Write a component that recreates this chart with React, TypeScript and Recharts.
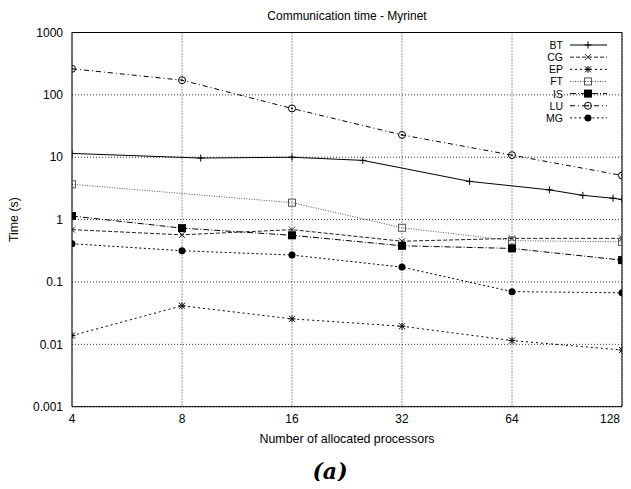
import React from 'react';
import {
  LineChart, Line, XAxis, YAxis, CartesianGrid, Legend, Label,
} from 'recharts';

// ---------- data ----------
const procTicks = [4, 8, 16, 32, 64, 128];
const timeTicks = [0.001, 0.01, 0.1, 1, 10, 100, 1000];
const minorTimeTicks = [
  0.002, 0.003, 0.004, 0.005, 0.006, 0.007, 0.008, 0.009,
  0.02, 0.03, 0.04, 0.05, 0.06, 0.07, 0.08, 0.09,
  0.2, 0.3, 0.4, 0.5, 0.6, 0.7, 0.8, 0.9,
  2, 3, 4, 5, 6, 7, 8, 9,
  20, 30, 40, 50, 60, 70, 80, 90,
  200, 300, 400, 500, 600, 700, 800, 900,
];

const btProcs = [4, 9, 16, 25, 49, 81, 100, 121, 128];
const btTime = [11.5, 9.7, 10.0, 8.9, 4.1, 3.0, 2.45, 2.2, 2.1];

const procs = [4, 8, 16, 32, 64, 128];
const cgTime = [0.69, 0.57, 0.69, 0.45, 0.5, 0.5];
const epTime = [0.0138, 0.0415, 0.0256, 0.0195, 0.0115, 0.0081];
const isTime = [1.14, 0.73, 0.56, 0.38, 0.345, 0.224];
const luTime = [262, 172, 60.5, 22.8, 10.8, 5.1];
const mgTime = [0.41, 0.317, 0.27, 0.173, 0.07, 0.067];

const ftProcs = [4, 16, 32, 64, 128];
const ftTime = [3.68, 1.87, 0.74, 0.46, 0.44];

const seriesNames = ['BT', 'CG', 'EP', 'FT', 'IS', 'LU', 'MG'];

const toData = (xs: number[], ys: number[]) => xs.map((x, i) => ({ x, y: ys[i] }));

// ---------- styles ----------
const FONT = '"Liberation Sans", Arial, Helvetica, sans-serif';

type Shape = 'plus' | 'cross' | 'star' | 'osquare' | 'fsquare' | 'ocircle' | 'fcircle';

const styles: Record<string, { shape: Shape; dash?: string; color: string }> = {
  BT: { shape: 'plus', dash: undefined, color: '#000' },
  CG: { shape: 'cross', dash: '4 2', color: '#222' },
  EP: { shape: 'star', dash: '2 3', color: '#000' },
  FT: { shape: 'osquare', dash: '1 1.5', color: '#555' },
  IS: { shape: 'fsquare', dash: '6 2 1 2', color: '#000' },
  LU: { shape: 'ocircle', dash: '5 3 1 3', color: '#000' },
  MG: { shape: 'fcircle', dash: '2 2.5', color: '#000' },
};

function Marker({ shape, cx, cy, color }: { shape: Shape; cx: number; cy: number; color: string }) {
  const s = 3.5;
  switch (shape) {
    case 'plus':
      return (
        <g stroke={color} strokeWidth={1}>
          <line x1={cx - s} y1={cy} x2={cx + s} y2={cy} />
          <line x1={cx} y1={cy - s} x2={cx} y2={cy + s} />
        </g>
      );
    case 'cross':
      return (
        <g stroke={color} strokeWidth={1}>
          <line x1={cx - 3} y1={cy - 3} x2={cx + 3} y2={cy + 3} />
          <line x1={cx - 3} y1={cy + 3} x2={cx + 3} y2={cy - 3} />
        </g>
      );
    case 'star':
      return (
        <g stroke={color} strokeWidth={1}>
          <line x1={cx - 3} y1={cy - 3} x2={cx + 3} y2={cy + 3} />
          <line x1={cx - 3} y1={cy + 3} x2={cx + 3} y2={cy - 3} />
          <line x1={cx - s} y1={cy} x2={cx + s} y2={cy} />
          <line x1={cx} y1={cy - s} x2={cx} y2={cy + s} />
        </g>
      );
    case 'osquare':
      return <rect x={cx - s} y={cy - s} width={2 * s} height={2 * s} fill="none" stroke={color} strokeWidth={1} />;
    case 'fsquare':
      return <rect x={cx - s - 0.5} y={cy - s - 0.5} width={2 * s + 1} height={2 * s + 1} fill={color} stroke="none" />;
    case 'ocircle':
      return (
        <g>
          <circle cx={cx} cy={cy} r={s} fill="none" stroke={color} strokeWidth={1} />
          <circle cx={cx} cy={cy} r={0.9} fill={color} />
        </g>
      );
    case 'fcircle':
      return <circle cx={cx} cy={cy} r={s} fill={color} stroke="none" />;
  }
  return null;
}

const makeDot = (name: string) => (props: any) => {
  const { cx, cy, index } = props;
  const st = styles[name];
  if (cx == null || cy == null) return <g key={`${name}-${index}`} />;
  return (
    <g key={`${name}-${index}`}>
      <Marker shape={st.shape} cx={cx} cy={cy} color={st.color} />
    </g>
  );
};

function LegendBox() {
  const rowH = 12.15;
  return (
    <svg width={100} height={90} style={{ display: 'block' }}>
      {seriesNames.map((n, i) => {
        const st = styles[n];
        const y = 9 + i * rowH;
        return (
          <g key={n}>
            <text x={35} y={y} textAnchor="end" dominantBaseline="central" fontFamily={FONT} fontSize={10.5} fill="#000">
              {n}
            </text>
            <line x1={42} y1={y} x2={79} y2={y} stroke={st.color} strokeWidth={1} strokeDasharray={st.dash} />
            <Marker shape={st.shape} cx={60} cy={y} color={st.color} />
          </g>
        );
      })}
    </svg>
  );
}

const tickStyle = { fontFamily: FONT, fontSize: 12, fill: '#000' };

function XTick(props: any) {
  const { x, y, payload } = props;
  const last = payload.value === procTicks[procTicks.length - 1];
  return (
    <text
      x={last ? x - 1 : x}
      y={y}
      dy="0.71em"
      textAnchor="middle"
      fontFamily={FONT}
      fontSize={12}
      fill="#000"
    >
      {String(payload.value)}
    </text>
  );
}

const logX = { type: 'number' as const, dataKey: 'x', scale: 'log' as const, domain: [4, 128], ticks: procTicks, allowDataOverflow: true };
const logY = { type: 'number' as const, scale: 'log' as const, domain: [0.001, 1000], allowDataOverflow: true };

export default function App() {
  const W = 615;
  const H = 473;
  return (
    <div style={{ position: 'relative', width: W, height: H }}>
      <style>{`.recharts-surface{overflow:visible}.recharts-wrapper{overflow:visible}`}</style>
      <div
        style={{
          position: 'absolute', left: 64, width: 550, top: 1, textAlign: 'center',
          fontFamily: FONT, fontSize: 12, lineHeight: '14px', color: '#000',
        }}
      >
        Communication time - Myrinet
      </div>
      <LineChart
        width={W}
        height={H}
        margin={{ top: 24.5, right: 1, left: 0, bottom: 44.3 }}
      >
        <CartesianGrid stroke="#000" strokeDasharray="1 2" strokeWidth={0.8} />
        <XAxis
          xAxisId={0}
          {...logX}
          height={30}
          tickSize={0}
          tickMargin={8}
          tick={<XTick />}
          axisLine={{ stroke: '#000', strokeWidth: 1 }}
          tickLine={false}
        >
          <Label
            value="Number of allocated processors"
            position="bottom"
            offset={-3}
            style={{ fontFamily: FONT, fontSize: 12.4, fill: '#000' }}
          />
        </XAxis>
        <XAxis
          xAxisId="top"
          {...logX}
          orientation="top"
          mirror
          height={0.01}
          tick={false}
          tickSize={6}
          axisLine={{ stroke: '#000', strokeWidth: 1 }}
          tickLine={{ stroke: '#000' }}
        />
        <XAxis
          xAxisId="botTicks"
          {...logX}
          orientation="bottom"
          mirror
          height={0.01}
          tick={false}
          tickSize={6}
          axisLine={false}
          tickLine={{ stroke: '#000' }}
        />
        <YAxis
          yAxisId={0}
          {...logY}
          ticks={timeTicks}
          width={64}
          tickSize={0}
          tickMargin={9}
          tick={tickStyle}
          tickFormatter={(v: number) => String(v)}
          axisLine={{ stroke: '#000', strokeWidth: 1 }}
          tickLine={false}
        >
          <Label
            value="Time (s)"
            angle={-90}
            position="insideLeft"
            offset={6}
            style={{ fontFamily: FONT, fontSize: 12.4, fill: '#000', textAnchor: 'middle' }}
          />
        </YAxis>
        <YAxis
          yAxisId="lMaj"
          {...logY}
          ticks={timeTicks}
          orientation="left"
          mirror
          width={0.01}
          tick={false}
          tickSize={6}
          axisLine={false}
          tickLine={{ stroke: '#000' }}
        />
        <YAxis
          yAxisId="lMin"
          {...logY}
          ticks={minorTimeTicks}
          orientation="left"
          mirror
          width={0.01}
          tick={false}
          tickSize={3}
          axisLine={false}
          tickLine={{ stroke: '#000' }}
        />
        <YAxis
          yAxisId="rMaj"
          {...logY}
          ticks={timeTicks}
          orientation="right"
          mirror
          width={0.01}
          tick={false}
          tickSize={6}
          axisLine={{ stroke: '#000', strokeWidth: 1 }}
          tickLine={{ stroke: '#000' }}
        />
        <YAxis
          yAxisId="rMin"
          {...logY}
          ticks={minorTimeTicks}
          orientation="right"
          mirror
          width={0.01}
          tick={false}
          tickSize={3}
          axisLine={false}
          tickLine={{ stroke: '#000' }}
        />
        <Legend
          layout="vertical"
          align="center"
          verticalAlign="middle"
          content={() => <LegendBox />}
          wrapperStyle={{ position: 'absolute', left: 520, top: 28, width: 100, height: 90 }}
        />
        <Line data={toData(btProcs, btTime)} dataKey="y" name="BT" stroke={styles.BT.color} strokeWidth={1}
          dot={makeDot('BT')} activeDot={false} isAnimationActive={false} />
        <Line data={toData(procs, cgTime)} dataKey="y" name="CG" stroke={styles.CG.color} strokeWidth={1}
          strokeDasharray={styles.CG.dash} dot={makeDot('CG')} activeDot={false} isAnimationActive={false} />
        <Line data={toData(procs, epTime)} dataKey="y" name="EP" stroke={styles.EP.color} strokeWidth={1}
          strokeDasharray={styles.EP.dash} dot={makeDot('EP')} activeDot={false} isAnimationActive={false} />
        <Line data={toData(ftProcs, ftTime)} dataKey="y" name="FT" stroke={styles.FT.color} strokeWidth={1}
          strokeDasharray={styles.FT.dash} dot={makeDot('FT')} activeDot={false} isAnimationActive={false} />
        <Line data={toData(procs, isTime)} dataKey="y" name="IS" stroke={styles.IS.color} strokeWidth={1}
          strokeDasharray={styles.IS.dash} dot={makeDot('IS')} activeDot={false} isAnimationActive={false} />
        <Line data={toData(procs, luTime)} dataKey="y" name="LU" stroke={styles.LU.color} strokeWidth={1}
          strokeDasharray={styles.LU.dash} dot={makeDot('LU')} activeDot={false} isAnimationActive={false} />
        <Line data={toData(procs, mgTime)} dataKey="y" name="MG" stroke={styles.MG.color} strokeWidth={1}
          strokeDasharray={styles.MG.dash} dot={makeDot('MG')} activeDot={false} isAnimationActive={false} />
      </LineChart>
      <div
        style={{
          position: 'absolute', left: 322, top: 452, transform: 'translateX(-50%)',
          fontFamily: '"DejaVu Serif", "Liberation Serif", serif', fontWeight: 'bold', fontStyle: 'italic',
          fontSize: 22, lineHeight: '22px', color: '#000', whiteSpace: 'nowrap',
        }}
      >
        (a)
      </div>
    </div>
  );
}
